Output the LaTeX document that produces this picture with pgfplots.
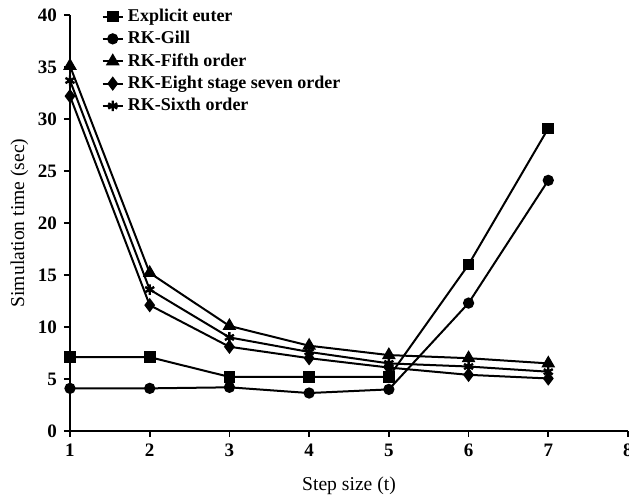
\documentclass[border=0pt]{standalone}
\usepackage{fontspec}
\setmainfont{Liberation Serif}
\usepackage{pgfplots}
\pgfplotsset{compat=1.18}

\begin{document}
\begin{tikzpicture}[font=\fontsize{9}{10}\selectfont]
\begin{axis}[
  name=ax,
  scale only axis,
  width=279pt, height=208pt,
  xmin=1, xmax=8, ymin=0, ymax=40,
  xtick={1,...,8}, ytick={0,5,...,40},
  axis lines=left,
  axis line style={line width=1pt,-},
  tick style={line width=0.9pt,black},
  tick align=outside,
  major tick length=3pt,
  /pgf/number format/assume math mode=true,
  ticklabel style={font=\fontsize{9.5}{10}\selectfont\bfseries},
  xlabel={Step size (t)},
  ylabel={Simulation time (sec)},
  label style={font=\fontsize{9.8}{11}\selectfont},
  xlabel style={yshift=-3pt},
  ylabel style={yshift=-2pt},
  every axis plot/.append style={line width=1pt,black,mark options={solid,fill=black}},
  legend cell align=left,
  legend style={draw=none,fill=none,at={(0.045,1.035)},anchor=north west,
    font=\fontsize{9}{10}\selectfont\bfseries,row sep=-0.6pt},
  legend image code/.code={\draw[mark repeat=2,mark phase=2,#1]
    plot coordinates {(0cm,0cm)(0.18cm,0cm)(0.36cm,0cm)};},
]
\addplot[mark=square*,mark size=2.4pt] coordinates
  {(1,7.1)(2,7.1)(3,5.2)(4,5.2)(5,5.2)(6,16.0)(7,29.1)};
\addlegendentry{Explicit euter}
\addplot[mark=*,mark size=2.3pt] coordinates
  {(1,4.1)(2,4.1)(3,4.2)(4,3.65)(5,4.0)(6,12.3)(7,24.1)};
\addlegendentry{RK-Gill}
\addplot[mark=triangle*,mark size=3pt] coordinates
  {(1,35.1)(2,15.2)(3,10.1)(4,8.2)(5,7.3)(6,7.0)(7,6.5)};
\addlegendentry{RK-Fifth order}
\addplot[mark=diamond*,mark size=2.8pt] coordinates
  {(1,32.2)(2,12.1)(3,8.1)(4,7.0)(5,6.1)(6,5.4)(7,5.05)};
\addlegendentry{RK-Eight stage seven order}
\addplot[mark=asterisk,mark size=2.6pt,mark options={line width=1.2pt}] coordinates
  {(1,33.7)(2,13.6)(3,9.0)(4,7.6)(5,6.5)(6,6.2)(7,5.7)};
\addlegendentry{RK-Sixth order}
\end{axis}
\pgfresetboundingbox
\path[use as bounding box] ([xshift=-35pt,yshift=-35pt]ax.south west) rectangle ([xshift=0.5pt,yshift=7.5pt]ax.north east);
\end{tikzpicture}
\end{document}
